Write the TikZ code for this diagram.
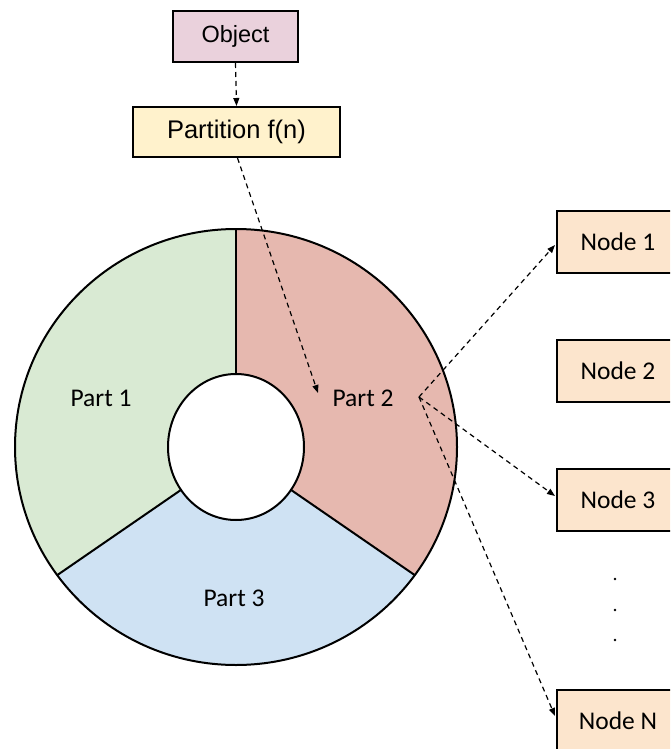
\documentclass[tikz,border=0pt]{standalone}
\usepackage{fontspec}
\setmainfont{Carlito}
\newfontfamily\arialfont{Liberation Sans}
\usetikzlibrary{arrows.meta,calc}
\definecolor{objfill}{HTML}{EAD1DC}
\definecolor{partfill}{HTML}{FFF2CC}
\definecolor{nodefill}{HTML}{FCE5CD}
\definecolor{greenpart}{HTML}{D9EAD3}
\definecolor{redpart}{HTML}{E6B8AF}
\definecolor{bluepart}{HTML}{CFE2F3}
\tikzset{
  box/.style={draw=black, line width=2pt, rectangle, inner sep=0pt},
  nodebox/.style={box, fill=nodefill, minimum width=122pt, minimum height=62pt,
    font=\fontsize{25.5}{30}\selectfont},
  parttext/.style={font=\fontsize{25.5}{30}\selectfont, inner sep=0pt},
  link/.style={dashed, dash pattern=on 5pt off 4pt, line width=1.2pt,
    -{Triangle[length=8pt,width=6pt]}},
}
\begin{document}
\begin{tikzpicture}[x=1pt, y=-1pt]
\useasboundingbox (0,0) rectangle (670,749);
\clip (0,0) rectangle (670,749);

% ring: outer ellipse radii, inner hole radii, centre
\def\ORx{221}\def\ORy{218}
\def\IRx{68}\def\IRy{73}
\begin{scope}[shift={(236,447)}]
  % sectors, angles measured clockwise on screen (y points down)
  \foreach \a/\b/\c in {-90/36/redpart, 36/144/bluepart, 144/270/greenpart}{
    \fill[\c] (\a:{\ORx} and {\ORy})
      arc[start angle=\a, end angle=\b, x radius=\ORx, y radius=\ORy]
      -- (\b:{\IRx} and {\IRy})
      arc[start angle=\b, end angle=\a, x radius=\IRx, y radius=\IRy]
      -- cycle;
  }
  \draw[line width=2pt] (0,0) ellipse[x radius=\ORx, y radius=\ORy];
  \draw[line width=2pt, fill=white] (0,0) ellipse[x radius=\IRx, y radius=\IRy];
  \foreach \a in {-90,36,144}{
    \draw[line width=2pt] (\a:{\IRx} and {\IRy}) -- (\a:{\ORx} and {\ORy});
  }
\end{scope}

% labels of the three parts
\node[parttext] (p1) at (101,398) {Part 1};
\node[parttext] (p2) at (363,398) {Part 2};
\node[parttext] (p3) at (234,598) {Part 3};

% object and partition function
\node[box, fill=objfill, minimum width=125pt, minimum height=51pt,
  font=\arialfont\fontsize{23.5}{28}\selectfont] (obj) at (235.5,36.5) {Object};
\node[box, fill=partfill, minimum width=207pt, minimum height=50pt,
  font=\arialfont\fontsize{25.5}{30}\selectfont] (fn) at (236.5,132) {Partition f(n)};

% storage nodes
\node[nodebox] (n1) at (618,242) {Node 1};
\node[nodebox] (n2) at (618,371) {Node 2};
\node[nodebox] (n3) at (618,500) {Node 3};
\node[nodebox] (nN) at (618,721) {Node N};

% ellipsis between Node 3 and Node N
\foreach \y in {579,610,640}{
  \fill (615,\y) circle[radius=1.4pt];
}

% connectors
\coordinate (p2in) at (318,393);
\coordinate (p2out) at (419,397);
\draw[link] (obj.south) -- (fn.north);
\draw[link] ([xshift=1pt]fn.south) -- (p2in);
\draw[link] (p2out) -- ([xshift=-1pt,yshift=-3pt]n1.west);
\draw[link] (p2out) -- ([xshift=-1pt,yshift=4pt]n3.west);
\draw[link] (p2out) -- ([xshift=-1pt,yshift=5pt]nN.west);
\end{tikzpicture}
\end{document}
